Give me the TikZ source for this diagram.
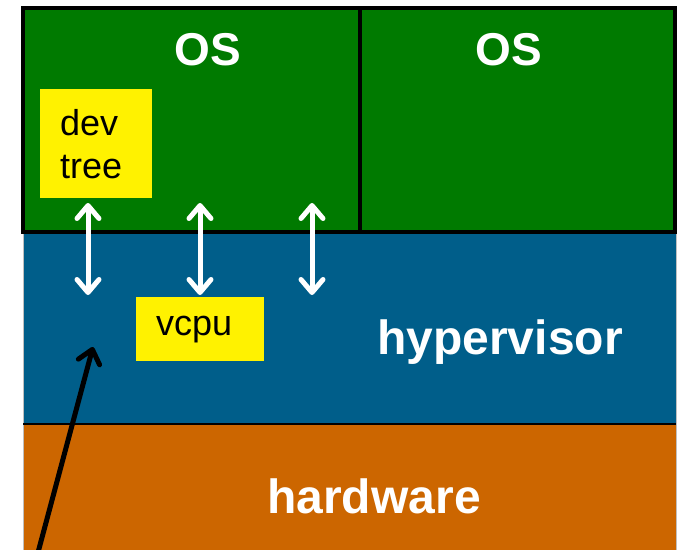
\documentclass[tikz,border=0pt]{standalone}
\usepackage{fontspec}
\setmainfont{Liberation Sans}
\usepackage{xcolor}
\usetikzlibrary{arrows.meta, positioning, calc}

\definecolor{osgreen}{RGB}{0,122,0}
\definecolor{hypblue}{RGB}{0,94,138}
\definecolor{hworange}{RGB}{204,102,0}

\begin{document}
\begin{tikzpicture}[x=1pt, y=-1pt,
    layer/.style={rectangle, anchor=north west, inner sep=0pt, outer sep=0pt},
    osbox/.style={layer, fill=osgreen, draw=black, line width=3.5pt},
    ybox/.style={rectangle, fill=yellow, anchor=north west, inner xsep=20pt, inner ysep=0pt,
        align=left, font=\fontsize{36}{43}\selectfont},
    title/.style={anchor=base, inner sep=0pt, text=white, font=\fontsize{46}{50}\selectfont\bfseries},
    link/.style={white, line width=5pt, {Straight Barb[round, length=13pt, width=22pt]}-{Straight Barb[round, length=13pt, width=22pt]}}]
    \useasboundingbox (0,0) rectangle (677,549);
    \clip (0,0) rectangle (677,549);
    % layers
    \node[layer, fill=hypblue, draw=gray!50, line width=0.75pt, minimum width=653pt, minimum height=192pt] (hyp) at (23,232) {};
    \node[layer, fill=hworange, draw=gray!50, line width=0.75pt, minimum width=653pt, minimum height=140pt] (hw) at (23,424) {};
    \draw[line width=2.5pt] (hw.north west) -- (hw.north east);
    \node[osbox, minimum width=337pt, minimum height=224pt] (os1) at (23,8) {};
    \node[osbox, minimum width=315pt, minimum height=224pt] (os2) at (360,8) {};
    % labels
    \node[title] (os1text) at (208,65) {OS};
    \node[title] (os2text) at (509,65) {OS};
    \node[title, font=\fontsize{48}{52}\selectfont\bfseries] (hyptext) at (500,354) {hypervisor};
    \node[title, font=\fontsize{48}{52}\selectfont\bfseries] (hwtext) at (374,513) {hardware};
    \node[ybox, text width=72pt, minimum height=109pt] (devtree) at (40,89) {dev\\tree};
    \node[ybox, text width=88pt, minimum height=64pt] (vcpu) at (136,297) {vcpu};
    % links
    \foreach \i/\x in {1/88, 2/200, 3/312} {
        \coordinate (up\i) at (\x,203);
        \coordinate (down\i) at (\x,295);
        \draw[link] (up\i) -- (down\i);
    }
    \coordinate (from) at (36,560);
    \coordinate (to) at (93,347);
    \draw[line width=5pt, -{Straight Barb[round, length=13pt, width=22pt]}] (from) -- (to);
\end{tikzpicture}
\end{document}
